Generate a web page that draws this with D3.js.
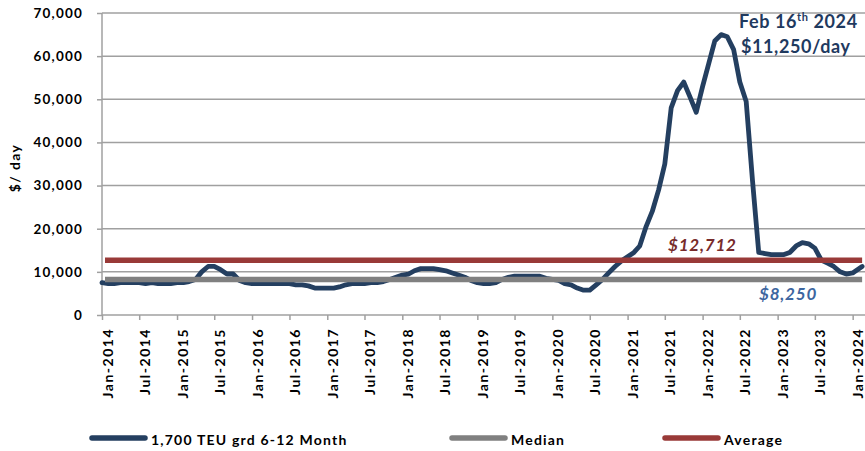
<!DOCTYPE html>
<html>
<head>
<meta charset="utf-8">
<script src="https://cdn.jsdelivr.net/npm/d3@7"></script>
<style>
  html, body { margin: 0; padding: 0; background: #fff; }
  svg { display: block; font-family: Lato, "Open Sans", sans-serif; font-weight: 700; }
</style>
</head>
<body>
<svg id="chart" width="865" height="451"></svg>
<script>
// 1,700 TEU geared containership, 6-12 month time-charter rate ($/day), monthly from Jan-2014
const seriesName = "1,700 TEU grd 6-12 Month";
const firstMonth = "2014-01";
const rates = [
  // 2014
  7500, 7250, 7250, 7500, 7500, 7500, 7500, 7250, 7500, 7250, 7250, 7250,
  // 2015
  7500, 7500, 7750, 8250, 10000, 11250, 11250, 10500, 9500, 9500, 8000, 7500,
  // 2016
  7250, 7250, 7250, 7250, 7250, 7250, 7250, 7000, 7000, 6750, 6250, 6250,
  // 2017
  6250, 6250, 6500, 7000, 7250, 7250, 7250, 7500, 7500, 7750, 8250, 8750,
  // 2018
  9250, 9500, 10250, 10750, 10750, 10750, 10500, 10250, 9750, 9250, 8750, 8000,
  // 2019
  7500, 7250, 7250, 7500, 8250, 8750, 9000, 9000, 9000, 9000, 9000, 8500,
  // 2020
  8250, 8000, 7250, 7000, 6250, 5750, 5750, 7000, 8250, 9750, 11250, 12500,
  // 2021
  13500, 14500, 16000, 20500, 24000, 29000, 35000, 48000, 52000, 54000, 50500, 47000,
  // 2022
  53000, 58500, 63500, 65000, 64500, 61500, 54000, 49500, 31000, 14500, 14250, 14000,
  // 2023
  14000, 14000, 14500, 16000, 16750, 16500, 15500, 12750, 12000, 11250, 10000, 9500,
  // 2024
  9750
];
// latest fixture
const latestDate = "2024-02-16";
const latestRate = 11250;
const latestLabel = ["Feb 16", "th", " 2024"];

const medianRate = 8250;
const averageRate = 12712;
const medianName = "Median";
const averageName = "Average";

const yTicks = [0, 10000, 20000, 30000, 40000, 50000, 60000, 70000];
const xTickLabels = [
  "Jan-2014", "Jul-2014", "Jan-2015", "Jul-2015", "Jan-2016", "Jul-2016",
  "Jan-2017", "Jul-2017", "Jan-2018", "Jul-2018", "Jan-2019", "Jul-2019",
  "Jan-2020", "Jul-2020", "Jan-2021", "Jul-2021", "Jan-2022", "Jul-2022",
  "Jan-2023", "Jul-2023", "Jan-2024"
];
const yTitle = "$/ day";

// ---- build points ----
const parseMonth = d3.timeParse("%Y-%m");
const parseDay = d3.timeParse("%Y-%m-%d");
const parseTick = d3.timeParse("%b-%Y");
const start = parseMonth(firstMonth);
const points = rates.map((v, i) => ({ date: d3.timeMonth.offset(start, i), value: v }));
points.push({ date: parseDay(latestDate), value: latestRate });

const svg = d3.select("#chart");
const margin = { left: 102, top: 13, bottom: 315, right: 865 };

const x = d3.scaleTime()
  .domain([start, new Date(2024, 2, 1)])
  .range([margin.left, margin.right]);
const y = d3.scaleLinear()
  .domain([0, 70000])
  .range([margin.bottom, margin.top]);

const gridColor = "#a0a0a0";

// y axis ticks and labels
const yAxis = d3.axisLeft(y)
  .tickValues(yTicks)
  .tickSize(5)
  .tickPadding(14)
  .tickFormat(d3.format(","));
const gy = svg.append("g")
  .attr("transform", `translate(${margin.left},0)`)
  .call(yAxis);
gy.select(".domain").remove();
gy.selectAll(".tick line").attr("stroke", gridColor).attr("stroke-width", 1.5);
gy.selectAll(".tick text")
  .attr("fill", "#000")
  .style("font-size", "13.5px")
  .style("letter-spacing", "1.2px")
  .style("font-family", "Lato, sans-serif")
  .style("font-weight", 700);

// horizontal gridlines
svg.append("g")
  .selectAll("line")
  .data(yTicks.filter(d => d > 0))
  .join("line")
  .attr("x1", margin.left).attr("x2", margin.right)
  .attr("y1", d => y(d)).attr("y2", d => y(d))
  .attr("stroke", gridColor).attr("stroke-width", 1.5);

svg.append("line")
  .attr("x1", margin.left).attr("x2", margin.left)
  .attr("y1", margin.top).attr("y2", margin.bottom)
  .attr("stroke", gridColor).attr("stroke-width", 1.5);

// x axis
const xTickDates = xTickLabels.map(parseTick);
const xAxis = d3.axisBottom(x)
  .tickValues(xTickDates)
  .tickSize(5)
  .tickFormat(d3.timeFormat("%b-%Y"));
const gx = svg.append("g")
  .attr("transform", `translate(0,${margin.bottom})`)
  .call(xAxis);
gx.select(".domain").attr("stroke", gridColor).attr("stroke-width", 1.5)
  .attr("d", `M${margin.left},0H${margin.right}`);
gx.selectAll(".tick line").attr("stroke", gridColor).attr("stroke-width", 1.5);
gx.selectAll(".tick text")
  .attr("fill", "#000")
  .attr("transform", "rotate(-90)")
  .attr("text-anchor", "end")
  .attr("x", -13)
  .attr("y", 0)
  .attr("dy", "0.72em")
  .style("font-size", "14px")
  .style("letter-spacing", "1.5px")
  .style("font-family", "Lato, sans-serif")
  .style("font-weight", 700);

// y axis title
svg.append("text")
  .attr("transform", "translate(20,168) rotate(-90)")
  .attr("text-anchor", "middle")
  .style("font-size", "14px")
  .style("letter-spacing", "1.4px")
  .text(yTitle);

// rate line
const navy = "#243f60";
const line = d3.line().x(d => x(d.date)).y(d => y(d.value)).curve(d3.curveLinear);
svg.append("path")
  .datum(points)
  .attr("fill", "none")
  .attr("stroke", navy)
  .attr("stroke-width", 4.8)
  .attr("stroke-linejoin", "round")
  .attr("stroke-linecap", "round")
  .attr("d", line);

// median and average reference lines
const medianColor = "#808080";
const averageColor = "#993a38";
const lastX = x(points[points.length - 1].date);
svg.append("line")
  .attr("x1", margin.left + 3).attr("x2", lastX)
  .attr("y1", y(medianRate)).attr("y2", y(medianRate))
  .attr("stroke", medianColor).attr("stroke-width", 5.5);
svg.append("line")
  .attr("x1", margin.left + 3).attr("x2", lastX)
  .attr("y1", y(averageRate)).attr("y2", y(averageRate))
  .attr("stroke", averageColor).attr("stroke-width", 5.5);

// value labels
const fmt = d3.format(",");
svg.append("text")
  .attr("x", 668).attr("y", y(averageRate) - 9)
  .attr("fill", "#772b2b")
  .style("font-size", "17px").style("font-style", "italic")
  .style("letter-spacing", "0.8px")
  .text("$" + fmt(averageRate));
svg.append("text")
  .attr("x", 759).attr("y", y(medianRate) + 21)
  .attr("fill", "#3d66a0")
  .style("font-size", "17px").style("font-style", "italic")
  .style("letter-spacing", "0.8px")
  .text("$" + fmt(medianRate));

// latest fixture callout
const callout = svg.append("text")
  .attr("x", 739).attr("y", 28)
  .attr("fill", "#1f3a5f")
  .style("font-size", "18px")
  .style("letter-spacing", "0.6px");
callout.append("tspan").text(latestLabel[0]);
callout.append("tspan").attr("dy", -7).style("font-size", "11px").text(latestLabel[1]);
callout.append("tspan").attr("dy", 7).text(latestLabel[2]);
svg.append("text")
  .attr("x", 741).attr("y", 53)
  .attr("fill", "#1f3a5f")
  .style("font-size", "18px")
  .style("letter-spacing", "0.6px")
  .text("$" + fmt(latestRate) + "/day");

// legend
const legendItems = [
  { name: seriesName, color: navy, x: 92 },
  { name: medianName, color: medianColor, x: 452 },
  { name: averageName, color: averageColor, x: 665 }
];
const lg = svg.append("g").selectAll("g").data(legendItems).join("g")
  .attr("transform", d => `translate(${d.x},438)`);
lg.append("line")
  .attr("x1", 0).attr("x2", 53)
  .attr("stroke", d => d.color)
  .attr("stroke-width", 5.5)
  .attr("stroke-linecap", "round");
lg.append("text")
  .attr("x", 59).attr("y", 7)
  .style("font-size", "14px")
  .style("letter-spacing", "1.2px")
  .text(d => d.name);
</script>
</body>
</html>
